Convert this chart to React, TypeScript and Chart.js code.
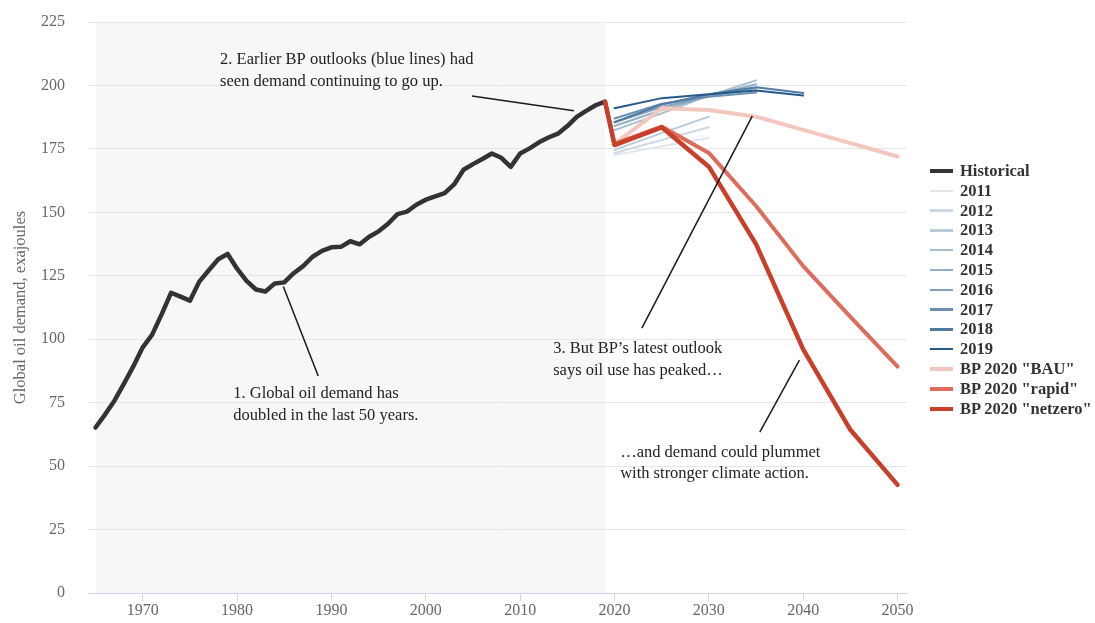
import React, { useEffect, useRef } from "react";
import { Chart, registerables } from "chart.js";

Chart.register(...registerables);

// ---------- DATA ----------
const histYears = [
  1965, 1966, 1967, 1968, 1969, 1970, 1971, 1972, 1973, 1974, 1975, 1976, 1977, 1978, 1979,
  1980, 1981, 1982, 1983, 1984, 1985, 1986, 1987, 1988, 1989, 1990, 1991, 1992, 1993, 1994,
  1995, 1996, 1997, 1998, 1999, 2000, 2001, 2002, 2003, 2004, 2005, 2006, 2007, 2008, 2009,
  2010, 2011, 2012, 2013, 2014, 2015, 2016, 2017, 2018, 2019,
];
const histValues = [
  65.2, 70.3, 75.8, 82.4, 89.3, 96.8, 101.8, 109.8, 118.3, 116.8, 115.2, 122.7, 127.2, 131.5, 133.6,
  127.8, 123.0, 119.6, 118.8, 122.0, 122.4, 126.0, 128.8, 132.5, 134.8, 136.2, 136.4, 138.6, 137.4, 140.4,
  142.5, 145.5, 149.3, 150.3, 153.0, 155.0, 156.3, 157.6, 161.0, 166.8, 169.0, 171.0, 173.2, 171.5, 167.9,
  173.2, 175.2, 177.6, 179.5, 181.0, 184.0, 187.6, 190.0, 192.2, 193.6,
];

const projYears = [2019, 2020, 2025, 2030, 2035, 2040, 2045, 2050];
const bauValues = [193.6, 177.0, 191.0, 190.3, 187.7, 182.5, 177.3, 172.0];
const rapidValues = [193.6, 177.0, 183.8, 173.4, 152.5, 128.8, 108.8, 89.2];
const netzeroValues = [193.6, 176.5, 183.5, 168.0, 137.5, 96.0, 64.3, 42.6];

const outlookYearsTo2030 = [2020, 2025, 2030];
const outlookYearsTo2035 = [2020, 2025, 2030, 2035];
const outlookYearsTo2040 = [2020, 2025, 2030, 2035, 2040];
const outlook2011 = [172.6, 176.0, 179.3];
const outlook2012 = [173.4, 178.5, 183.5];
const outlook2013 = [174.6, 181.2, 187.7];
const outlook2014 = [182.4, 189.0, 196.0, 202.0];
const outlook2015 = [184.0, 190.3, 196.0, 200.5];
const outlook2016 = [185.5, 191.5, 195.8, 199.0];
const outlook2017 = [187.0, 192.8, 195.5, 197.2];
const outlook2018 = [185.5, 192.5, 196.5, 199.3, 197.0];
const outlook2019 = [191.0, 195.0, 196.5, 198.0, 196.0];

const xTickValues = [1970, 1980, 1990, 2000, 2010, 2020, 2030, 2040, 2050];
const bandStart = 1965;
const bandEnd = 2019;

const yTitle = "Global oil demand, exajoules";

// annotations: text lines anchored in data coordinates, with leader line
const annoTexts = [
  ["1. Global oil demand has", "doubled in the last 50 years."],
  ["2. Earlier BP outlooks (blue lines) had", "seen demand continuing to go up."],
  ["3. But BP\u2019s latest outlook", "says oil use has peaked\u2026"],
  ["\u2026and demand could plummet", "with stronger climate action."],
];
const annoTextAnchor = [
  [1979.6, 78.5],
  [1978.2, 210.1],
  [2013.5, 96.2],
  [2020.6, 55.3],
];
const annoLineFrom = [
  [1984.9, 120.8],
  [2004.9, 195.8],
  [2022.9, 104.4],
  [2039.6, 91.8],
];
const annoLineTo = [
  [1988.6, 85.5],
  [2015.7, 190.0],
  [2034.6, 187.9],
  [2035.4, 63.4],
];

// ---------- STYLE ----------
const SERIF = '"Liberation Serif", "Times New Roman", serif';

type Series = { label: string; xs: number[]; ys: number[]; color: string; width: number; legendWidth: number };

const seriesList: Series[] = [
  { label: 'BP 2020 "netzero"', xs: projYears, ys: netzeroValues, color: "#c8402a", width: 4.5, legendWidth: 4 },
  { label: 'BP 2020 "rapid"', xs: projYears, ys: rapidValues, color: "#dd6c5c", width: 4, legendWidth: 4 },
  { label: 'BP 2020 "BAU"', xs: projYears, ys: bauValues, color: "#f3c6be", width: 4, legendWidth: 4 },
  { label: "Historical", xs: histYears, ys: histValues, color: "#333333", width: 4.5, legendWidth: 4 },
  { label: "2019", xs: outlookYearsTo2040, ys: outlook2019, color: "#265a88", width: 2, legendWidth: 2.5 },
  { label: "2018", xs: outlookYearsTo2040, ys: outlook2018, color: "#4f7ba3", width: 2, legendWidth: 2.5 },
  { label: "2017", xs: outlookYearsTo2035, ys: outlook2017, color: "#6b90b1", width: 2, legendWidth: 2.5 },
  { label: "2016", xs: outlookYearsTo2035, ys: outlook2016, color: "#80a0bc", width: 2, legendWidth: 2.5 },
  { label: "2015", xs: outlookYearsTo2035, ys: outlook2015, color: "#93afc7", width: 2, legendWidth: 2.5 },
  { label: "2014", xs: outlookYearsTo2035, ys: outlook2014, color: "#a6bdd1", width: 2, legendWidth: 2.5 },
  { label: "2013", xs: outlookYearsTo2030, ys: outlook2013, color: "#b9cbdb", width: 2, legendWidth: 2.5 },
  { label: "2012", xs: outlookYearsTo2030, ys: outlook2012, color: "#ccd9e5", width: 2, legendWidth: 2.5 },
  { label: "2011", xs: outlookYearsTo2030, ys: outlook2011, color: "#dfe7ef", width: 2, legendWidth: 2.5 },
];

const legendOrder = [
  "Historical", "2011", "2012", "2013", "2014", "2015", "2016", "2017", "2018", "2019",
  'BP 2020 "BAU"', 'BP 2020 "rapid"', 'BP 2020 "netzero"',
];

const overlayPlugin = {
  id: "overlay",
  beforeDraw(chart: any) {
    const { ctx, chartArea, scales } = chart;
    const x = scales.x;
    const x0 = x.getPixelForValue(bandStart);
    const x1 = x.getPixelForValue(bandEnd);
    ctx.save();
    ctx.fillStyle = "#f7f7f7";
    ctx.fillRect(x0, chartArea.top, x1 - x0, chartArea.bottom - chartArea.top);
    ctx.restore();
  },
  afterDatasetsDraw(chart: any) {
    const { ctx, scales } = chart;
    const x = scales.x;
    const y = scales.y;
    ctx.save();
    ctx.strokeStyle = "#1a1a1a";
    ctx.lineWidth = 1.5;
    for (let i = 0; i < annoLineFrom.length; i++) {
      ctx.beginPath();
      ctx.moveTo(x.getPixelForValue(annoLineFrom[i][0]), y.getPixelForValue(annoLineFrom[i][1]));
      ctx.lineTo(x.getPixelForValue(annoLineTo[i][0]), y.getPixelForValue(annoLineTo[i][1]));
      ctx.stroke();
    }
    ctx.fillStyle = "#222";
    ctx.font = `16.5px ${SERIF}`;
    ctx.textAlign = "left";
    ctx.textBaseline = "middle";
    for (let i = 0; i < annoTexts.length; i++) {
      const px = x.getPixelForValue(annoTextAnchor[i][0]);
      const py = y.getPixelForValue(annoTextAnchor[i][1]);
      annoTexts[i].forEach((t, j) => ctx.fillText(t, px, py + j * 21.5));
    }
    ctx.restore();
  },
};

export default function App() {
  const canvasRef = useRef<HTMLCanvasElement | null>(null);

  useEffect(() => {
    if (!canvasRef.current) return;
    const chart = new Chart(canvasRef.current, {
      type: "line",
      data: {
        datasets: seriesList.map((s) => ({
          label: s.label,
          data: s.xs.map((xv, i) => ({ x: xv, y: s.ys[i] })),
          borderColor: s.color,
          backgroundColor: s.color,
          borderWidth: s.width,
          pointRadius: 0,
          pointHoverRadius: 0,
          tension: 0,
          fill: false,
          borderJoinStyle: "round" as const,
          borderCapStyle: "round" as const,
        })),
      },
      options: {
        animation: false,
        responsive: false,
        devicePixelRatio: 1,
        layout: { padding: { left: 0, right: 188, top: 22, bottom: 0 } },
        plugins: { legend: { display: false }, tooltip: { enabled: false } },
        scales: {
          x: {
            type: "linear",
            min: 1964.2,
            max: 2051,
            afterBuildTicks: (s: any) => {
              s.ticks = xTickValues.map((v) => ({ value: v }));
            },
            afterFit: (s: any) => {
              s.height = 30;
              s.paddingLeft = 0;
              s.paddingRight = 0;
              s.paddingTop = 0;
              s.paddingBottom = 0;
            },
            grid: { drawOnChartArea: false, drawTicks: true, tickLength: 8, color: "#ccd6eb" },
            border: { display: true, color: "#ccd6eb", width: 1 },
            ticks: {
              font: { family: SERIF, size: 16 },
              color: "#666",
              padding: 0,
              maxRotation: 0,
              autoSkip: false,
              callback: (v: any) => String(v),
            },
          },
          y: {
            type: "linear",
            min: 0,
            max: 225,
            afterFit: (s: any) => {
              s.width = 88;
              s.paddingTop = 0;
              s.paddingBottom = 0;
              s.paddingLeft = 0;
              s.paddingRight = 0;
            },
            grid: { color: "#e6e6e6", drawTicks: false },
            border: { display: false },
            ticks: {
              stepSize: 25,
              padding: 23,
              font: { family: SERIF, size: 16 },
              color: "#666",
              callback: (v: any) => String(v),
            },
            title: {
              display: true,
              text: yTitle,
              color: "#666",
              font: { family: SERIF, size: 16.5 },
              padding: { top: 11, bottom: 0 },
            },
          },
        },
      },
      plugins: [overlayPlugin],
    });
    return () => chart.destroy();
  }, []);

  const legendItems = legendOrder.map((l) => seriesList.find((s) => s.label === l)!);

  return (
    <div style={{ position: "fixed", left: 0, top: 0, width: 1095, height: 623, background: "#fff" }}>
      <canvas ref={canvasRef} width={1095} height={623} style={{ position: "absolute", left: 0, top: 0 }} />
      {legendItems.map((s, i) => (
        <div
          key={s.label}
          style={{
            position: "absolute",
            left: 930,
            top: 171 + i * 19.8 - 10,
            height: 20,
            display: "flex",
            alignItems: "center",
            whiteSpace: "nowrap",
          }}
        >
          <div style={{ width: 23, height: s.legendWidth, background: s.color, marginRight: 7 }} />
          <span style={{ fontFamily: SERIF, fontWeight: "bold", fontSize: 16.5, color: "#333", lineHeight: "20px" }}>
            {s.label}
          </span>
        </div>
      ))}
    </div>
  );
}
